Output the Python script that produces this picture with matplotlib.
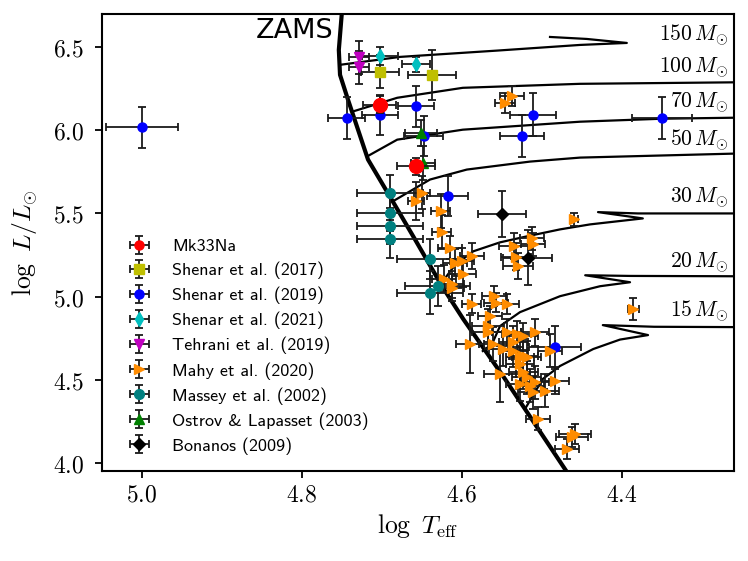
import matplotlib
matplotlib.use("Agg")
import numpy as np
import matplotlib.pyplot as plt
from matplotlib.ticker import FuncFormatter, MultipleLocator

plt.rcParams["mathtext.fontset"] = "cm"

# ---- evolutionary tracks (log Teff, log L) ----------------------------------
zams_T = [4.750, 4.754, 4.7525, 4.7425, 4.730, 4.7175, 4.688, 4.6588, 4.625, 4.5984, 4.5488, 4.470]
zams_L = [6.720, 6.484, 6.334, 6.184, 6.004, 5.824, 5.584, 5.344, 5.062, 4.864, 4.522, 3.952]

tracks = {
    150: ([4.753, 4.6775, 4.556, 4.4525, 4.394, 4.444, 4.490],
          [6.394, 6.442, 6.480, 6.514, 6.526, 6.550, 6.562]),
    100: ([4.7375, 4.681, 4.599, 4.4525, 4.260],
          [6.112, 6.196, 6.256, 6.280, 6.289]),
    70: ([4.719, 4.681, 4.599, 4.4525, 4.350, 4.260],
         [5.842, 5.944, 6.004, 6.052, 6.070, 6.076]),
    50: ([4.6868, 4.640, 4.594, 4.515, 4.4525, 4.260],
         [5.572, 5.704, 5.764, 5.812, 5.836, 5.860]),
    30: ([4.625, 4.609, 4.586, 4.5525, 4.519, 4.4775, 4.440, 4.374, 4.430, 4.380, 4.260],
         [5.086, 5.188, 5.272, 5.326, 5.362, 5.404, 5.434, 5.470, 5.508, 5.500, 5.500]),
    20: ([4.574, 4.5625, 4.5525, 4.5275, 4.4775, 4.4275, 4.390, 4.446, 4.390, 4.260],
         [4.672, 4.714, 4.822, 4.906, 5.002, 5.062, 5.086, 5.128, 5.124, 5.122]),
    15: ([4.5212, 4.499, 4.4775, 4.436, 4.4025, 4.3675, 4.424, 4.360, 4.260],
         [4.324, 4.504, 4.582, 4.684, 4.741, 4.768, 4.828, 4.818, 4.816]),
}
label_L = {150: 6.574, 100: 6.376, 70: 6.166, 50: 5.944, 30: 5.596, 20: 5.206, 15: 4.912}

# ---- observed stars ---------------------------------------------------------
mk33_T = [4.703, 4.6575]
mk33_L = [6.154, 5.784]
mk33_xerr = [0.021, 0.024]
mk33_yerr = [0.05, 0.05]

sh17_T = [4.7025, 4.638]
sh17_L = [6.354, 6.334]
sh17_xerr = [0.024, 0.030]
sh17_yerr = [0.10, 0.15]

sh19_T = [5.000, 4.744, 4.7025, 4.6575, 4.648, 4.5116, 4.525, 4.350, 4.618, 4.4838]
sh19_L = [6.018, 6.074, 6.094, 6.144, 5.964, 6.094, 5.964, 6.074, 5.604, 4.694]
sh19_xerr = [0.045, 0.023, 0.023, 0.023, 0.024, 0.029, 0.028, 0.0375, 0.026, 0.033]
sh19_yerr = [0.125, 0.124, 0.12, 0.124, 0.12, 0.128, 0.127, 0.124, 0.12, 0.13]

sh21_T = [4.7025, 4.6575]
sh21_L = [6.448, 6.398]
sh21_xerr = [0.022, 0.018]
sh21_yerr = [0.055, 0.045]

teh_T = [4.7284, 4.7284]
teh_L = [6.440, 6.380]
teh_xerr = [0.0125, 0.0125]
teh_yerr = [0.10, 0.10]

mahy_T = [4.538, 4.546, 4.650, 4.6575, 4.6266, 4.6254, 4.615, 4.609, 4.600, 4.588,
          4.599, 4.623, 4.613, 4.613, 4.588, 4.560, 4.557, 4.544, 4.565, 4.535,
          4.5325, 4.530, 4.513, 4.5116, 4.4596, 4.567, 4.567, 4.590, 4.561, 4.544,
          4.5316, 4.5234, 4.5088, 4.5484, 4.536, 4.536, 4.5275, 4.519, 4.490, 4.5275,
          4.5525, 4.5234, 4.519, 4.5275, 4.515, 4.5088, 4.5115, 4.4963, 4.4838, 4.5046,
          4.4588, 4.4629, 4.469, 4.5234, 4.3859]
mahy_L = [6.204, 6.164, 5.624, 5.574, 5.514, 5.388, 5.294, 5.204, 5.214, 5.244,
          5.138, 5.108, 5.074, 5.054, 4.958, 5.004, 4.964, 4.954, 4.884, 5.304,
          5.240, 5.184, 5.350, 5.314, 5.464, 4.824, 4.784, 4.714, 4.714, 4.784,
          4.774, 4.760, 4.784, 4.684, 4.724, 4.674, 4.634, 4.634, 4.674, 4.594,
          4.534, 4.544, 4.514, 4.474, 4.464, 4.484, 4.424, 4.434, 4.494, 4.264,
          4.174, 4.154, 4.084, 4.644, 4.924]
mahy_xerr = [0.015, 0.0125, 0.010, 0.010, 0.012, 0.012, 0.015, 0.015, 0.015, 0.015,
             0.017, 0.015, 0.015, 0.015, 0.012, 0.015, 0.015, 0.015, 0.015, 0.019,
             0.019, 0.019, 0.015, 0.015, 0.005, 0.020, 0.020, 0.018, 0.018, 0.018,
             0.018, 0.018, 0.017, 0.018, 0.018, 0.018, 0.018, 0.018, 0.015, 0.018,
             0.020, 0.018, 0.018, 0.018, 0.018, 0.018, 0.018, 0.018, 0.018, 0.015,
             0.020, 0.020, 0.015, 0.018, 0.007]
mahy_yerr = [0.06, 0.06, 0.10, 0.115, 0.10, 0.10, 0.07, 0.08, 0.08, 0.08,
             0.08, 0.08, 0.08, 0.08, 0.06, 0.06, 0.06, 0.06, 0.06, 0.08,
             0.08, 0.08, 0.07, 0.07, 0.04, 0.10, 0.10, 0.175, 0.10, 0.08,
             0.08, 0.08, 0.08, 0.10, 0.10, 0.10, 0.10, 0.10, 0.10, 0.10,
             0.17, 0.10, 0.10, 0.10, 0.10, 0.10, 0.10, 0.10, 0.08, 0.07,
             0.06, 0.06, 0.06, 0.10, 0.065]

mas_T = [4.690, 4.690, 4.690, 4.690, 4.640, 4.6304, 4.640]
mas_L = [5.624, 5.504, 5.424, 5.344, 5.228, 5.064, 5.024]
mas_xerr = [0.041, 0.041, 0.041, 0.041, 0.041, 0.041, 0.041]
mas_yerr = [0.11, 0.11, 0.11, 0.115, 0.12, 0.12, 0.13]

ost_T = [4.6517, 4.6484]
ost_L = [5.984, 5.804]
ost_xerr = [0.020, 0.015]
ost_yerr = [0.08, 0.10]

bon_T = [4.5496, 4.518]
bon_L = [5.498, 5.234]
bon_xerr = [0.030, 0.031]
bon_yerr = [0.14, 0.165]

# =============================================================================

fig = plt.figure(figsize=(7.48, 5.61), dpi=100)
ax = fig.add_axes([0.1364, 0.1604, 0.8449, 0.8146])

for m, (tT, tL) in tracks.items():
    ax.plot(tT, tL, color="k", lw=1.6, zorder=2)
    ax.text(4.2675, label_L[m], rf"${m}\,M_{{\odot}}$", ha="right", va="center",
            fontsize=15.5, zorder=5)
ax.plot(zams_T, zams_L, color="k", lw=3, zorder=2)
ax.text(4.761, 6.598, "ZAMS", ha="right", va="center", fontsize=19.5)

eb = dict(ecolor="0.1", elinewidth=1.3, capsize=2.8, capthick=1.3, ls="none")

# Mk33Na: big markers in the plot, normal-size marker in the legend
ax.errorbar([np.nan], [np.nan], xerr=[0.02], yerr=[0.05], fmt="o", color="r",
            ms=6.5, label="Mk33Na", **eb)
ax.errorbar(mk33_T, mk33_L, xerr=mk33_xerr, yerr=mk33_yerr, fmt="o", color="r",
            ms=10, zorder=10, **eb)
ax.errorbar(sh17_T, sh17_L, xerr=sh17_xerr, yerr=sh17_yerr, fmt="s", color="y",
            ms=7, label="Shenar et al. (2017)", zorder=4, **eb)
ax.errorbar(sh19_T, sh19_L, xerr=sh19_xerr, yerr=sh19_yerr, fmt="o", color="b",
            ms=6.5, label="Shenar et al. (2019)", zorder=4, **eb)
ax.errorbar(sh21_T, sh21_L, xerr=sh21_xerr, yerr=sh21_yerr, fmt="d", color="c",
            ms=7, label="Shenar et al. (2021)", zorder=4, **eb)
ax.errorbar(teh_T, teh_L, xerr=teh_xerr, yerr=teh_yerr, fmt="v", color="m",
            ms=7.5, label="Tehrani et al. (2019)", zorder=4, **eb)
ax.errorbar(mahy_T, mahy_L, xerr=mahy_xerr, yerr=mahy_yerr, fmt=">", color="darkorange",
            ms=7.5, label="Mahy et al. (2020)", zorder=4, **eb)
ax.errorbar(mas_T, mas_L, xerr=mas_xerr, yerr=mas_yerr, fmt="o", color="teal",
            ms=7, label="Massey et al. (2002)", zorder=4, **eb)
ax.errorbar(ost_T, ost_L, xerr=ost_xerr, yerr=ost_yerr, fmt="^", color="g",
            ms=7.5, label="Ostrov & Lapasset (2003)", zorder=4, **eb)
ax.errorbar(bon_T, bon_L, xerr=bon_xerr, yerr=bon_yerr, fmt="D", color="k",
            ms=6, label="Bonanos (2009)", zorder=4, **eb)

ax.set_xlim(5.05, 4.26)
ax.set_ylim(3.95, 6.70)
ax.xaxis.set_major_locator(MultipleLocator(0.2))
ax.yaxis.set_major_locator(MultipleLocator(0.5))
fmt = FuncFormatter(lambda v, _: rf"${v:.1f}$")
ax.xaxis.set_major_formatter(fmt)
ax.yaxis.set_major_formatter(fmt)
ax.tick_params(labelsize=17, width=1.3, length=5)
ax.tick_params(axis="y", pad=8)
for s in ax.spines.values():
    s.set_linewidth(1.5)

ax.set_xlabel(r"$\log\ T_{\rm eff}$", fontsize=18.5)
ax.set_ylabel(r"$\log\ L/L_{\odot}$", fontsize=18.5, labelpad=9)

ax.legend(loc="lower left", bbox_to_anchor=(0.005, 0.0), frameon=False,
          prop={"family": "cmss10", "size": 13}, handletextpad=0.8,
          labelspacing=0.42)

plt.savefig("out.png", dpi=100)
